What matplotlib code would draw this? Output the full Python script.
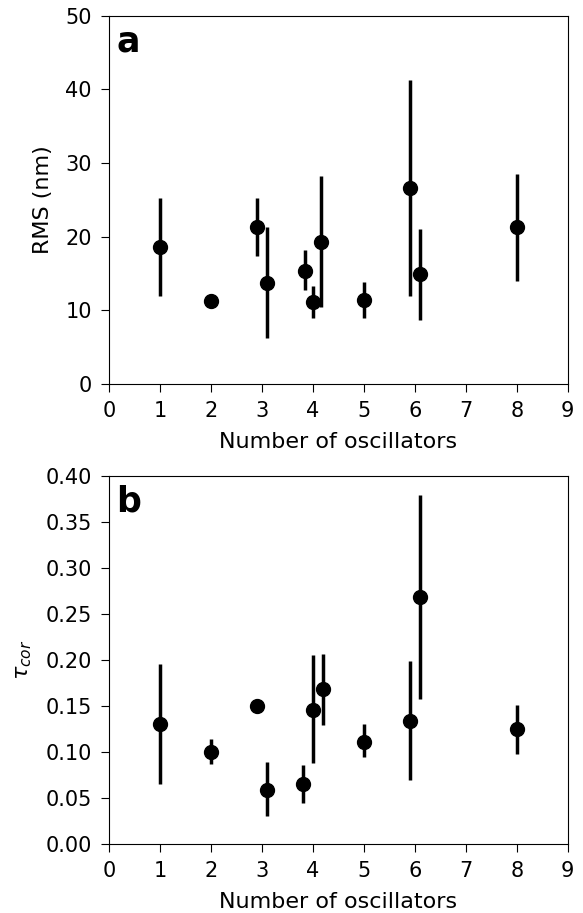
import numpy as np
import matplotlib
matplotlib.use("Agg")
import matplotlib.pyplot as plt

# panel a: RMS vs number of oscillators
n_osc_a = [1, 2, 2.9, 3.1, 3.85, 4.0, 4.15, 5, 5.9, 6.1, 8]
rms = [18.6, 11.3, 21.3, 13.7, 15.3, 11.1, 19.3, 11.4, 26.6, 14.9, 21.3]
rms_hi = [25.3, 11.3, 25.2, 21.3, 18.2, 13.3, 28.2, 13.8, 41.3, 21.1, 28.5]
rms_lo = [11.9, 11.3, 17.4, 6.2, 12.7, 9.0, 10.4, 9.0, 12.0, 8.7, 14.0]

# panel b: correlation time
n_osc_b = [1, 2, 2.9, 3.1, 3.8, 4.0, 4.2, 5, 5.9, 6.1, 8]
tau = [0.130, 0.100, 0.150, 0.059, 0.065, 0.146, 0.168, 0.111, 0.134, 0.268, 0.125]
tau_hi = [0.196, 0.114, 0.150, 0.089, 0.086, 0.205, 0.206, 0.130, 0.199, 0.379, 0.151]
tau_lo = [0.065, 0.087, 0.150, 0.030, 0.045, 0.088, 0.129, 0.094, 0.070, 0.157, 0.098]

plt.rcParams['font.size'] = 15
plt.rcParams['axes.labelsize'] = 16
plt.rcParams['axes.labelpad'] = 7.5
plt.rcParams['xtick.major.size'] = 6
plt.rcParams['ytick.major.size'] = 6
plt.rcParams['xtick.major.pad'] = 6.5
plt.rcParams['ytick.major.pad'] = 6.5

fig = plt.figure(figsize=(5.83, 9.13), dpi=100)
ax1 = fig.add_axes([0.1875, 0.5794, 0.7862, 0.4034])
ax2 = fig.add_axes([0.1875, 0.0756, 0.7862, 0.4034])

def draw(ax, x, y, hi, lo):
    y = np.array(y)
    yerr = [y - np.array(lo), np.array(hi) - y]
    ax.errorbar(x, y, yerr=yerr, fmt='o', color='black', ms=10,
                elinewidth=2.5, capsize=0)

draw(ax1, n_osc_a, rms, rms_hi, rms_lo)
ax1.set_xlim(0, 9)
ax1.set_ylim(0, 50)
ax1.set_xticks(range(10))
ax1.set_yticks(range(0, 51, 10))
ax1.set_xlabel("Number of oscillators")
ax1.set_ylabel("RMS (nm)", labelpad=9)
ax1.text(0.015, 0.975, "a", transform=ax1.transAxes, fontsize=25,
         fontweight='bold', va='top', ha='left')

draw(ax2, n_osc_b, tau, tau_hi, tau_lo)
ax2.set_xlim(0, 9)
ax2.set_ylim(0, 0.40)
ax2.set_xticks(range(10))
ax2.set_yticks(np.arange(0, 0.41, 0.05))
ax2.yaxis.set_major_formatter(matplotlib.ticker.FormatStrFormatter('%.2f'))
ax2.set_xlabel("Number of oscillators")
ax2.set_ylabel(r"$\tau_{cor}$", labelpad=8)
ax2.text(0.015, 0.975, "b", transform=ax2.transAxes, fontsize=25,
         fontweight='bold', va='top', ha='left')

fig.savefig("out.png", dpi=100)
